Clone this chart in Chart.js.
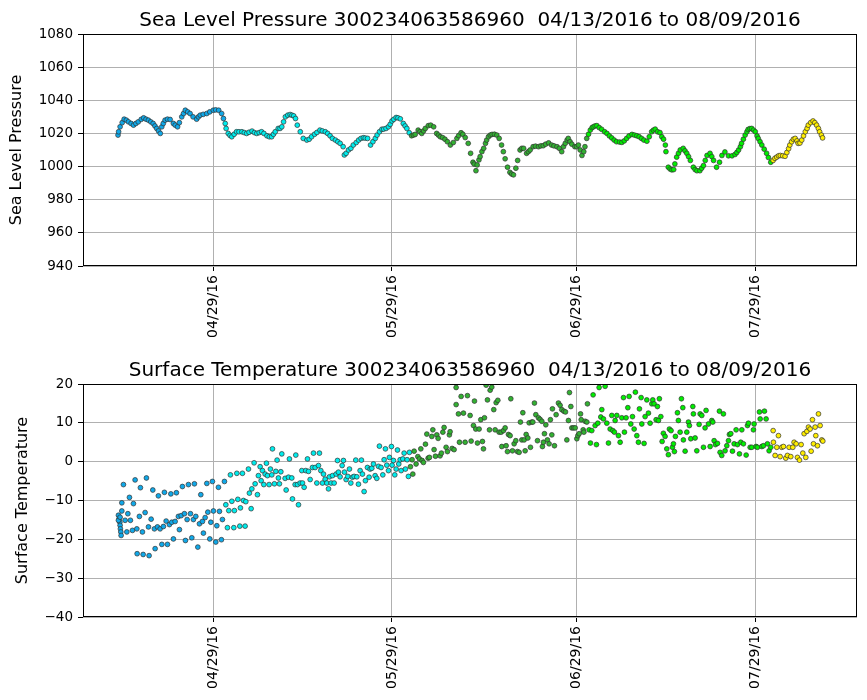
<!DOCTYPE html>
<html lang="en">
<head>
<meta charset="UTF-8" />
<title>Sea Level Pressure / Surface Temperature 300234063586960</title>
<script src="https://cdn.jsdelivr.net/npm/chart.js@4.4.1/dist/chart.umd.min.js"></script>
<style>
  body { margin: 0; background: #fff; }
  .panel { position: absolute; left: 0; width: 867px; height: 350px; }
</style>
</head>
<body>

<div class="panel" style="top:0"><canvas id="slpChart" width="867" height="350"></canvas></div>
<div class="panel" style="top:350px"><canvas id="tempChart" width="867" height="350"></canvas></div>

<script>
  // days are counted from 04/13/2016 00:00
  const dateTickDays = [16, 46, 77, 107];
  const dateTickLabels = ["04/29/16", "05/29/16", "06/29/16", "07/29/16"];
  const slpTicks = [940, 960, 980, 1000, 1020, 1040, 1060, 1080];
  const tempTicks = [-40, -30, -20, -10, 0, 10, 20];

  // month starts (day offsets) and the colour used for each month
  const monthStartDays = [0, 18, 49, 79, 110];
  const monthColors = ["#10a8e8", "#00ecec", "#32b032", "#00ee00", "#ffee00"];

  // sea level pressure
  const slpDays = [
    0.0, 0.1, 0.35, 0.7, 1.03, 1.4, 1.75, 2.2, 2.6, 3.0,
    3.4, 3.9, 4.3, 4.7, 5.1, 5.5, 5.9, 6.2, 6.5, 6.8,
    7.1, 7.35, 7.6, 7.9, 8.3, 8.75, 9.3, 9.6, 10.0, 10.3,
    10.7, 11.0, 11.3, 11.7, 12.1, 12.6, 13.2, 13.5, 13.8, 14.3,
    14.9, 15.4, 16.0, 16.4, 16.9, 17.4, 17.7, 18.0, 18.15, 18.5,
    18.8, 19.1, 19.5, 19.9, 20.3, 20.8, 21.2, 21.6, 22.0, 22.5,
    22.9, 23.3, 23.7, 24.1, 24.5, 25.0, 25.4, 25.8, 26.1, 26.4,
    26.9, 27.2, 27.5, 27.8, 28.1, 28.5, 28.9, 29.2, 29.5, 29.8,
    30.1, 30.6, 31.1, 31.7, 32.1, 32.5, 33.0, 33.4, 33.9, 34.3,
    34.8, 35.2, 35.6, 36.0, 36.5, 36.9, 37.3, 37.8, 38.0, 38.3,
    38.7, 39.1, 39.5, 40.0, 40.4, 40.8, 41.2, 41.5, 41.9, 42.4,
    42.8, 43.2, 43.5, 43.9, 44.3, 44.6, 45.0, 45.4, 45.7, 46.0,
    46.3, 46.7, 47.0, 47.4, 47.9, 48.2, 48.5, 48.9, 49.3, 49.6,
    49.9, 50.4, 50.7, 51.0, 51.3, 51.6, 52.1, 52.5, 53.0, 53.5,
    53.8, 54.1, 54.5, 54.9, 55.3, 55.8, 56.3, 56.9, 57.2, 57.6,
    57.9, 58.3, 58.8, 59.2, 59.6, 59.8, 60.1, 60.3, 60.6, 60.8,
    61.1, 61.4, 61.7, 61.9, 62.2, 62.5, 62.8, 63.2, 63.6, 64.0,
    64.4, 64.7, 65.0, 65.4, 65.8, 66.1, 66.4, 66.8, 67.1, 67.5,
    67.8, 68.1, 68.6, 68.9, 69.2, 69.7, 70.1, 70.6, 71.0, 71.4,
    71.8, 72.3, 72.8, 73.2, 73.7, 74.1, 74.5, 74.8, 75.1, 75.4,
    75.6, 75.9, 76.2, 76.7, 77.0, 77.3, 77.6, 77.9, 78.2, 78.4,
    78.7, 79.0, 79.3, 79.6, 79.8, 80.1, 80.4, 80.8, 81.2, 81.7,
    82.1, 82.5, 82.9, 83.3, 83.7, 84.2, 84.6, 85.0, 85.4, 85.8,
    86.3, 86.7, 87.1, 87.5, 87.9, 88.3, 88.8, 89.2, 89.6, 89.9,
    90.2, 90.6, 91.0, 91.3, 91.6, 91.9, 92.0, 92.4, 92.7, 93.0,
    93.3, 93.5, 93.8, 94.1, 94.4, 94.9, 95.2, 95.5, 95.8, 96.1,
    96.6, 96.9, 97.2, 97.7, 98.0, 98.3, 98.6, 98.9, 99.4, 99.7,
    100.0, 100.5, 101.0, 101.4, 101.9, 102.5, 103.1, 103.6, 103.9, 104.2,
    104.5, 104.7, 105.0, 105.3, 105.6, 105.8, 106.1, 106.4, 106.7, 107.0,
    107.3, 107.5, 107.8, 108.1, 108.5, 108.9, 109.2, 109.6, 110.0, 110.3,
    110.6, 110.9, 111.2, 111.6, 112.0, 112.3, 112.6, 112.8, 113.1, 113.4,
    113.7, 114.0, 114.2, 114.5, 114.8, 115.1, 115.4, 115.7, 115.9, 116.3,
    116.7, 117.0, 117.3, 117.6, 117.8, 118.1, 118.3
  ];
  const slpValues = [
    1019, 1021, 1024, 1026.5, 1028.6, 1028, 1027, 1026, 1025, 1026,
    1027, 1028.5, 1029.4, 1028.6, 1028, 1027, 1026, 1024.5, 1023, 1021.5,
    1020, 1024, 1026, 1028, 1028.6, 1028.4, 1026, 1025, 1024, 1026.5,
    1030, 1032, 1034, 1033, 1032, 1030, 1028.6, 1030, 1031, 1031.5,
    1032, 1033, 1034, 1034.2, 1034, 1032, 1029, 1026, 1023, 1020,
    1018.8, 1018, 1019.5, 1021, 1021, 1021, 1020.5, 1020, 1020.7, 1021.4,
    1020.5, 1020, 1020.5, 1021, 1020, 1018.6, 1018, 1018, 1019.5, 1021,
    1023, 1023, 1024, 1027, 1030, 1031, 1031.4, 1031, 1030.6, 1029,
    1025, 1021, 1017, 1016, 1016.5, 1018, 1019.5, 1020.6, 1022, 1021.5,
    1021, 1020, 1018.6, 1017, 1016, 1015, 1014, 1012, 1007, 1008,
    1010, 1011, 1013, 1014.5, 1016, 1017, 1017.4, 1017.2, 1017, 1013,
    1015, 1017, 1019, 1021, 1022.5, 1022.6, 1023, 1024, 1025.5, 1027.5,
    1028.5, 1029.6, 1029.4, 1028.8, 1026, 1024.5, 1023, 1020.4, 1018.6, 1019,
    1019.4, 1022, 1021, 1020, 1021.5, 1023, 1024.7, 1025, 1024, 1020,
    1019, 1018, 1017.5, 1016.5, 1015, 1013, 1014.5, 1017, 1018.7, 1020.4,
    1019.5, 1017.5, 1014, 1008, 1002.6, 1001.5, 997.5, 1001, 1004, 1006,
    1009, 1011, 1014, 1016, 1018, 1019, 1019.4, 1019.5, 1019, 1017,
    1013, 1009, 1004.7, 999.6, 996.5, 995.5, 995, 999, 1003.7, 1010,
    1011, 1011, 1008, 1009, 1010, 1012, 1012.3, 1012, 1012.5, 1012.6,
    1013.5, 1014.3, 1013, 1012.5, 1012, 1011, 1009, 1012, 1014, 1016,
    1017, 1015, 1013.5, 1012, 1012, 1013, 1010, 1006.7, 1009, 1012,
    1017, 1019.5, 1022, 1023.5, 1024, 1024.5, 1024.7, 1023.5, 1022.5, 1021,
    1020, 1018.5, 1017.3, 1016, 1015, 1014.8, 1014.6, 1015.5, 1017, 1018.5,
    1019.4, 1019, 1018.6, 1018, 1017, 1016, 1015.3, 1018, 1021, 1022,
    1022.6, 1021, 1020.5, 1018, 1016.5, 1013, 1009, 999.6, 998.5, 998,
    998.2, 1001.6, 1005.7, 1008, 1010, 1011, 1009.5, 1008, 1006, 1003.7,
    999.6, 998.2, 997.5, 997.5, 999, 1000.6, 1003.7, 1006.7, 1008, 1006,
    1003.7, 999.6, 1002.6, 1006.7, 1008.8, 1006.5, 1006.5, 1007.3, 1008.5, 1010,
    1012, 1014, 1016.5, 1019, 1021, 1022.4, 1022.9, 1023, 1022, 1021,
    1018.5, 1017, 1015, 1013, 1010.5, 1008, 1005.5, 1002.6, 1003.7, 1005,
    1005.7, 1006.5, 1006.7, 1006.5, 1006.2, 1008.5, 1010.8, 1013, 1015, 1016.5,
    1017, 1015.5, 1014, 1014.2, 1016, 1018.5, 1021, 1023, 1025, 1026.5,
    1027.5, 1026.5, 1025, 1023, 1021, 1019, 1017.3
  ];

  // surface temperature
  const tempDays = [
    0.07, 0.19, 0.30, 0.35, 0.40, 0.47, 0.52, 0.07, 0.35, 0.64,
    0.64, 0.91, 1.19, 1.48, 1.65, 1.92, 2.08, 2.42, 2.59, 2.87,
    3.16, 3.21, 3.59, 3.76, 4.10, 4.22, 4.55, 4.77, 5.11, 5.22,
    5.56, 5.84, 6.11, 6.23, 6.62, 6.78, 7.07, 7.36, 7.62, 7.79,
    8.08, 8.30, 8.63, 8.87, 9.03, 9.30, 9.59, 9.80, 10.14, 10.31,
    10.60, 10.81, 11.15, 11.32, 11.60, 11.82, 12.16, 12.39, 12.66, 12.83,
    13.06, 13.40, 13.67, 13.90, 14.17, 14.34, 14.63, 14.91, 15.08, 15.41,
    15.58, 15.85, 16.02, 16.42, 16.59, 16.86, 17.03, 17.36, 17.53, 17.87,
    18.10, 18.37, 18.60, 18.87, 19.11, 19.44, 19.54, 19.95, 20.12, 20.45,
    20.55, 20.89, 21.06, 21.34, 21.46, 21.90, 22.06, 22.35, 22.47, 22.85,
    23.02, 23.41, 23.57, 23.86, 24.03, 24.25, 24.48, 24.70, 24.92, 25.09,
    25.37, 25.59, 25.82, 25.93, 26.26, 26.50, 26.71, 26.93, 27.10, 27.34,
    27.50,
    28.06, 28.23, 28.62, 28.78, 29.18, 29.29, 29.74, 29.85, 30.13, 30.30,
    30.58, 30.86, 30.97, 31.25, 31.53, 31.81, 31.98, 32.26, 32.65, 32.82,
    33.10, 33.38, 33.66, 33.82, 34.05, 34.33, 34.50, 34.78, 35.06, 35.34,
    35.50, 35.78, 36.01, 36.29, 36.62, 36.85, 37.01, 37.29, 37.63, 37.85,
    38.02, 38.30, 38.58, 38.86, 39.09, 39.36, 39.64, 39.92, 40.10, 40.37,
    40.65, 40.87, 41.04, 41.32, 41.54, 41.88, 42.16, 42.33, 42.61, 42.89,
    43.17, 43.45, 43.73, 43.89, 44.17, 44.46, 44.68, 44.90, 45.13, 45.41,
    45.57, 45.91, 46.02, 46.25, 46.47, 46.70, 46.92, 47.14, 47.37, 47.54,
    47.82, 48.04, 48.26, 48.54, 48.76, 48.93, 49.10, 49.38, 49.50, 49.72,
    50.05, 50.34, 50.61, 50.84, 51.06, 51.28, 51.62, 51.85, 52.07, 52.29,
    52.69, 52.86, 53.07, 53.30, 53.53, 53.75, 54.08, 54.30, 54.54, 54.75,
    55.09, 55.31, 55.64, 55.76, 56.10, 56.43,
    56.77, 56.77, 57.16, 57.33, 57.61, 58.00, 58.28, 58.67, 59.12, 59.29,
    59.68, 59.85, 60.07, 60.35, 60.63, 60.91, 61.19, 61.36, 61.53, 61.81,
    62.03, 62.37, 62.48, 62.76, 63.09, 63.32, 63.49, 63.77, 63.99, 64.33,
    64.44, 64.72, 65.00, 65.17, 65.39, 65.56, 65.84, 65.95, 66.23, 66.51,
    66.79, 67.07, 67.35, 67.57, 67.80, 67.97, 68.19, 68.36, 68.53, 68.81,
    69.03, 69.25, 69.48, 69.65, 69.92, 70.15, 70.43, 70.59, 70.87, 71.16,
    71.26, 71.43, 71.60, 71.83, 72.10, 72.38, 72.60, 72.84, 72.94, 73.28,
    73.56, 73.95, 74.23, 74.51, 74.85, 75.13, 75.36, 75.63, 75.80, 76.03,
    76.20, 76.48, 76.76, 77.04, 77.21, 77.43, 77.66, 77.77, 78.10, 78.22,
    78.44, 78.72, 78.82, 79.10, 79.32, 79.55, 79.77, 80.11, 80.33, 80.56,
    80.78, 81.06, 81.23, 81.51, 81.79, 82.07, 82.35, 82.63, 82.91, 83.08,
    83.35, 83.47, 83.75, 84.03, 84.31, 84.59, 84.87, 85.03, 85.31, 85.60,
    85.82, 86.10, 86.38, 86.66, 86.87, 87.11, 87.38, 87.55,
    87.83, 87.95, 88.33, 88.50, 88.79, 89.06, 89.34, 89.63, 89.79, 90.01,
    90.35, 90.57, 90.74, 90.90, 91.14, 91.36, 91.57, 91.86, 92.14, 92.41,
    92.58, 92.86, 93.09, 93.26, 93.42, 93.59, 93.93, 94.09, 94.38, 94.60,
    94.83, 94.93, 95.22, 95.50, 95.78, 95.94, 96.17, 96.51, 96.61, 96.90,
    97.18, 97.57, 97.74, 98.02, 98.30, 98.57, 98.74, 99.14, 99.42, 99.70,
    99.87, 100.09, 100.31, 100.65, 100.98, 101.09, 101.37, 101.65, 101.93, 102.22,
    102.50, 102.66, 102.89, 103.17, 103.45, 103.78, 104.01, 104.34, 104.57, 104.74,
    105.01, 105.47, 105.69, 105.85, 106.14, 106.42, 106.69, 106.80, 107.14, 107.36,
    107.70, 107.82, 108.10, 108.37, 108.54, 108.82, 109.04, 109.32, 109.60, 110.00,
    110.05, 110.33, 110.61, 110.89, 111.17, 111.45, 111.73, 112.12, 112.40, 112.68,
    112.96, 113.30, 113.52, 113.86, 114.08, 114.42, 114.70, 114.98, 115.20, 115.48,
    115.66, 115.93, 116.21, 116.38, 116.60, 116.77, 117.05, 117.16, 117.44, 117.61,
    117.89, 118.17, 118.34
  ];
  const tempValues = [
    -13.8, -14.7, -15.6, -16.4, -17.3, -18.1, -19.0, -15.1, -14.3, -10.6,
    -12.7, -5.9, -15.1, -18.1, -13.4, -9.2, -15.1, -17.7, -10.8, -4.7,
    -17.3, -23.7, -14.1, -6.7, -18.1, -23.9, -13.1, -4.2, -16.8, -24.2,
    -14.8, -7.3, -17.3, -22.4, -16.8, -8.8, -17.3, -21.3, -16.7, -7.9,
    -15.3, -21.3, -16.2, -8.3, -15.6, -19.9, -15.4, -8.0, -14.1, -17.5,
    -13.9, -6.4, -13.4, -20.3, -14.9, -5.9, -13.4, -19.6, -14.9, -5.7,
    -14.1, -22.0, -16.0, -8.5, -15.4, -18.4, -14.4, -5.6, -13.0, -19.9,
    -15.6, -5.1, -12.7, -20.7, -16.5, -6.6, -12.8, -20.1, -14.9, -5.1,
    -11.1, -17.0, -12.6, -3.4, -10.2, -17.0, -12.6, -3.0, -9.7, -16.6,
    -11.9, -3.0, -10.0, -16.6, -10.3, -1.9, -8.1, -12.1, -7.0, -0.3,
    -5.7, -8.5, -3.6, -1.3, -4.9, -2.3, -5.9, -3.2, -0.4, -3.6,
    -5.9, -1.9, -3.4, 3.3, -5.7, -2.5, 0.4, -4.2, -5.7, -2.6,
    2.0,
    -4.3, -7.3, -4.0, 0.7, -4.2, -9.6, -5.9, 1.7, -5.9, -11.1,
    -5.5, -2.3, -5.5, -6.6, -2.3, 0.7, -2.5, -4.6, -1.5, 2.2,
    -1.5, -5.5, -1.0, 2.2, -2.3, -5.5, -3.2, -4.5, -5.5, -7.0,
    -3.9, -5.5, -3.6, -5.5, -3.2, 0.3, -2.7, -3.9, -1.0, 0.3,
    -2.7, -4.6, -3.8, -1.9, -5.5, -4.0, -3.8, 0.4, -3.9, -5.8,
    -2.3, 0.4, -3.2, -7.7, -4.9, -1.5, -4.0, -1.9, -1.7, -0.6,
    -3.6, -4.3, -1.2, 4.0, -1.5, -3.4, 0.5, 3.3, -0.9, -2.3,
    1.1, 3.9, -0.9, 0.3, -3.4, -1.9, 3.0, -0.6, 0.5, -2.3,
    0.7, 2.2, -1.9, 0.5, -3.8, 2.4, -1.3, 0.5, -3.2, 2.7,
    -0.6, 1.3, 0.7, 3.3, 0.3, -0.2, 4.5, 7.1, 0.9, 1.1,
    6.5, 8.2, 3.1, 1.4, 6.9, 6.0, 1.5, 2.2, 7.6, 8.8,
    3.7, 2.6, 6.9, 7.7, 3.4, 3.1,
    19.1, 14.7, 12.3, 5.0, 16.8, 12.5, 5.0, 17.0, 11.9, 5.3,
    9.3, 15.6, 8.4, 4.8, 8.4, 10.8, 5.2, 3.3, 11.3, 19.7,
    15.9, 8.2, 18.4, 19.2, 13.4, 8.2, 15.2, 15.8, 7.6, 7.6,
    3.9, 8.0, 8.7, 4.1, 2.6, 7.0, 6.7, 16.2, 2.8, 4.6,
    5.4, 2.6, 2.4, 10.2, 5.6, 12.6, 5.6, 2.8, 7.0, 6.1,
    10.0, 3.7, 10.2, 10.2, 15.1, 12.1, 5.4, 11.3, 10.9, 10.4,
    3.9, 5.0, 7.2, 9.5, 5.6, 4.6, 10.8, 6.9, 13.6, 4.1,
    12.1, 15.1, 14.5, 13.4, 13.0, 12.8, 5.6, 10.6, 17.8, 14.2,
    8.7, 8.7, 8.7, 5.9, 6.7, 7.2, 12.3, 10.8, 8.2, 7.6,
    10.4, 10.2, 14.9, 8.2, 4.8, 8.0, 17.2, 9.3, 4.4, 9.9,
    19.1, 11.5, 13.4, 11.0, 19.4, 9.9, 4.8, 8.4, 11.9, 8.0,
    7.6, 10.6, 11.9, 6.7, 5.0, 11.3, 16.5, 7.6, 11.3, 13.9,
    16.8, 9.7, 11.6, 8.4, 17.9, 6.7, 5.0, 13.6,
    16.5, 9.7, 4.7, 11.6, 15.9, 12.5, 9.9, 14.9, 15.9, 14.9,
    10.8, 14.2, 10.6, 16.2, 11.6, 5.2, 7.3, 6.5, 3.3, 1.8,
    8.4, 8.0, 3.7, 4.6, 2.6, 6.5, 12.6, 10.6, 7.6, 16.2,
    13.9, 5.6, 2.7, 7.6, 10.2, 9.3, 5.9, 14.2, 12.3, 6.1,
    2.8, 9.6, 12.3, 11.9, 3.7, 8.7, 13.2, 9.7, 3.9, 10.6,
    10.2, 5.4, 4.4, 4.7, 13.0, 2.4, 1.6, 12.3, 2.8, 4.1,
    5.4, 7.0, 7.2, 2.7, 4.6, 8.2, 4.4, 2.0, 5.0, 8.2,
    4.6, 1.7, 9.3, 9.9, 3.7, 3.7, 8.2, 9.7, 3.9, 3.7,
    12.8, 11.0, 3.9, 4.1, 13.0, 11.0, 4.6, 2.8, 3.7, 8.0,
    5.0, 1.6, 3.7, 6.7, 1.3, 3.7, 3.9, 0.9, 1.6, 3.7,
    1.3, 3.7, 5.0, 4.6, 1.1, 0.4, 4.4, 2.2, 7.2, 1.1,
    7.8, 8.9, 8.4, 2.7, 10.8, 4.6, 8.9, 6.7, 4.1, 12.3,
    9.3, 5.6, 5.3
  ];

  const FONT = "DejaVu Sans";
  const X_MIN = -5.88;
  const X_MAX = 124.08;

  Chart.defaults.font.family = FONT;
  Chart.defaults.color = "#000";

  function monthColor(day) {
    let c = monthColors[0];
    monthStartDays.forEach((start, i) => { if (day >= start) c = monthColors[i]; });
    return c;
  }

  // black box round the plot area, like matplotlib spines
  const axesFrame = {
    id: "axesFrame",
    afterDraw(chart) {
      const { ctx, chartArea: a } = chart;
      ctx.save();
      ctx.strokeStyle = "#000";
      ctx.lineWidth = 1;
      ctx.strokeRect(Math.round(a.left) + 0.5, Math.round(a.top) + 0.5,
        Math.round(a.right - a.left) - 1, Math.round(a.bottom - a.top) - 1);
      ctx.restore();
    }
  };

  // title centred over the plot area (not the whole canvas)
  const axesTitle = {
    id: "axesTitle",
    afterDraw(chart, args, opts) {
      const { ctx, chartArea: a } = chart;
      ctx.save();
      ctx.font = "20px '" + FONT + "'";
      ctx.fillStyle = "#000";
      ctx.textAlign = "center";
      ctx.textBaseline = "alphabetic";
      ctx.fillText(opts.text, (a.left + a.right) / 2, a.top - 8);
      ctx.restore();
    }
  };

  function makeChart(id, titleText, yLabel, days, values, yTicks, xAxisHeight, yTitlePad) {
    const points = days.map((d, i) => ({ x: d, y: values[i] }));
    return new Chart(document.getElementById(id), {
      type: "scatter",
      data: {
        datasets: [{
          data: points,
          pointBackgroundColor: days.map(monthColor),
          pointBorderColor: "#303030",
          pointBorderWidth: 0.7,
          pointRadius: 2.4,
          pointHoverRadius: 2.4
        }]
      },
      options: {
        responsive: false,
        animation: false,
        devicePixelRatio: 1,
        events: [],
        layout: { padding: { left: 0, right: 10, top: 34, bottom: 0 } },
        plugins: {
          legend: { display: false },
          tooltip: { enabled: false },
          title: { display: false },
          axesTitle: { text: titleText }
        },
        scales: {
          x: {
            type: "linear",
            min: X_MIN,
            max: X_MAX,
            afterBuildTicks: s => { s.ticks = dateTickDays.map(v => ({ value: v })); },
            afterFit: s => { s.height = xAxisHeight; },
            grid: { color: "#b0b0b0", lineWidth: 1, tickColor: "#000", tickLength: 5 },
            border: { display: false },
            ticks: {
              autoSkip: false,
              minRotation: 90,
              maxRotation: 90,
              padding: 4,
              color: "#000",
              font: { family: FONT, size: 14 },
              callback: v => dateTickLabels[dateTickDays.indexOf(v)]
            }
          },
          y: {
            min: yTicks[0],
            max: yTicks[yTicks.length - 1],
            afterBuildTicks: s => { s.ticks = yTicks.map(v => ({ value: v })); },
            afterFit: s => { s.width = 83; },
            grid: { color: "#b0b0b0", lineWidth: 1, tickColor: "#000", tickLength: 5 },
            border: { display: false },
            ticks: {
              padding: 5,
              color: "#000",
              font: { family: FONT, size: 13.5 },
              callback: v => String(v).replace("-", "\u2212")
            },
            title: {
              display: true,
              text: yLabel,
              color: "#000",
              font: { family: FONT, size: 16 },
              padding: { top: yTitlePad, bottom: 0 }
            }
          }
        }
      },
      plugins: [axesFrame, axesTitle]
    });
  }

  makeChart("slpChart", "Sea Level Pressure 300234063586960  04/13/2016 to 08/09/2016",
    "Sea Level Pressure", slpDays, slpValues, slpTicks, 84, 7);
  makeChart("tempChart", "Surface Temperature 300234063586960  04/13/2016 to 08/09/2016",
    "Surface Temperature", tempDays, tempValues, tempTicks, 83, 13);
</script>

</body>
</html>
